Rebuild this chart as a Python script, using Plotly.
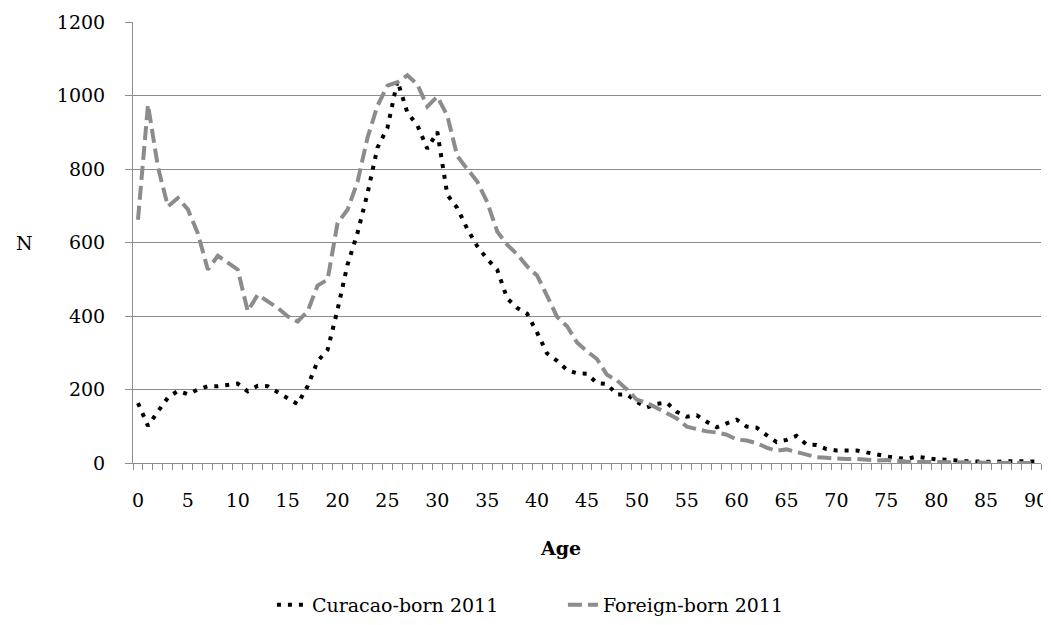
import plotly.graph_objects as go

ages = list(range(0, 91))

curacao_born = [
    163, 101, 140, 178, 196, 187, 200, 209, 209, 212,
    216, 195, 210, 209, 192, 176, 160, 209, 277, 308,
    417, 540, 626, 733, 858, 912, 1040, 953, 919, 855,
    901, 730, 694, 637, 590, 555, 526, 448, 422, 406,
    355, 298, 278, 253, 244, 243, 217, 215, 186, 187,
    166, 151, 161, 164, 139, 126, 130, 112, 97, 108,
    118, 99, 96, 76, 57, 63, 74, 50, 49, 38,
    34, 34, 34, 29, 23, 18, 14, 11, 17, 13,
    10, 9, 6, 5, 4, 3, 3, 5, 5, 5, 4,
]

foreign_born = [
    662, 975, 805, 698, 721, 690, 625, 526, 564, 544,
    526, 413, 458, 440, 422, 399, 385, 413, 483, 499,
    653, 689, 765, 885, 972, 1027, 1036, 1055, 1030, 970,
    997, 945, 835, 800, 766, 710, 630, 594, 568, 535,
    510, 455, 398, 372, 328, 304, 283, 240, 225, 200,
    172, 164, 150, 134, 121, 99, 93, 86, 83, 77,
    64, 61, 54, 42, 33, 37, 30, 23, 16, 14,
    12, 11, 11, 9, 7, 8, 5, 4, 3, 3,
    2, 2, 1, 1, 1, 1, 0, 1, 0, 0, 0,
]

x_tick_vals = list(range(0, 91, 5))
x_tick_text = [str(v) for v in x_tick_vals]
y_tick_vals = [0, 200, 400, 600, 800, 1000, 1200]

series_names = ["Curacao-born 2011", "Foreign-born 2011"]

FONT = "DejaVu Serif"
GRID = "#8c8c8c"

fig = go.Figure()
fig.add_trace(go.Scatter(
    x=ages, y=curacao_born, mode="lines", name=series_names[0],
    line=dict(color="#000000", width=4, dash="4px,7px"),
))
fig.add_trace(go.Scatter(
    x=ages, y=foreign_born, mode="lines", name=series_names[1],
    line=dict(color="#8c8c8c", width=4, dash="14px,6px"),
))

# page body has an 8px margin; figure is sized/offset to compensate
fig.update_layout(
    width=1043, height=617,
    margin=dict(l=125, r=10, t=14, b=162, autoexpand=False),
    paper_bgcolor="white", plot_bgcolor="white",
    font=dict(family=FONT, size=19, color="#000000"),
    showlegend=True,
    legend=dict(
        orientation="h", x=0.153, xanchor="left", y=-0.322, yanchor="middle",
        font=dict(family=FONT, size=19, color="#000000"),
        entrywidth=246, entrywidthmode="pixels",
        bgcolor="rgba(0,0,0,0)",
    ),
    xaxis=dict(
        range=[-0.5, 90.5], tickmode="array", tickvals=x_tick_vals, ticktext=x_tick_text,
        ticks="outside", ticklen=0, tickcolor=GRID,
        minor=dict(tickmode="linear", tick0=-0.5, dtick=1, ticks="outside", ticklen=6,
                   tickcolor=GRID, showgrid=False),
        showgrid=False, zeroline=False, automargin=False,
        showline=True, linecolor=GRID, linewidth=1,
        ticklabelstandoff=20,
        tickfont=dict(family=FONT, size=19),
    ),
    yaxis=dict(
        range=[0, 1200], tickmode="array", tickvals=y_tick_vals,
        ticks="outside", ticklen=7, tickcolor=GRID,
        showgrid=True, gridcolor=GRID, gridwidth=1, zeroline=False, automargin=False,
        showline=True, linecolor=GRID, linewidth=1,
        ticklabelstandoff=16,
        tickfont=dict(family=FONT, size=19),
    ),
    annotations=[
        dict(text="<b>Age</b>", x=0.471, y=-0.193, xref="paper", yref="paper",
             showarrow=False, xanchor="center", yanchor="middle",
             font=dict(family=FONT, size=19)),
        dict(text="N", x=-0.119, y=0.499, xref="paper", yref="paper",
             showarrow=False, xanchor="center", yanchor="middle",
             font=dict(family=FONT, size=19)),
    ],
)

fig.write_html("out.html")
